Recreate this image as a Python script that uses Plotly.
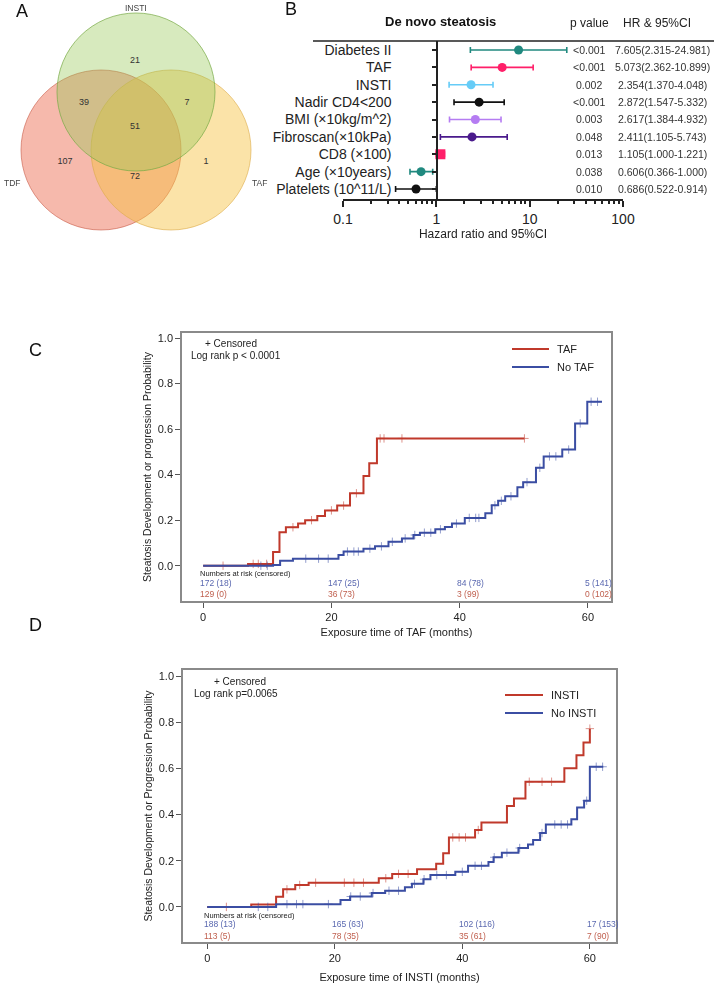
import plotly.graph_objects as go
import numpy as np

W, H = 714, 984
FONT = "Liberation Sans, Arial, sans-serif"

# ---------------- DATA ----------------
# Panel A: Venn counts
venn_sets = ["INSTI", "TDF", "TAF"]
venn_regions = ["INSTI only", "INSTI&TDF", "INSTI&TAF", "all", "TDF only", "TAF only", "TDF&TAF"]
venn_counts = [21, 39, 7, 51, 107, 1, 72]

# Panel B: forest plot
fp_labels = ["Diabetes II", "TAF", "INSTI", "Nadir CD4<200", "BMI (\u00d710kg/m^2)",
             "Fibroscan(\u00d710kPa)", "CD8 (\u00d7100)", "Age (\u00d710years)", "Platelets (10^11/L)"]
fp_hr = [7.605, 5.073, 2.354, 2.872, 2.617, 2.411, 1.105, 0.686, 0.606]
fp_lo = [2.315, 2.362, 1.370, 1.547, 1.384, 1.105, 1.000, 0.522, 0.366]
fp_hi = [24.981, 10.899, 4.048, 5.332, 4.932, 5.743, 1.221, 0.914, 1.000]
fp_p = ["<0.001", "<0.001", "0.002", "<0.001", "0.003", "0.048", "0.013", "0.038", "0.010"]
fp_hrtext = ["7.605(2.315-24.981)", "5.073(2.362-10.899)", "2.354(1.370-4.048)",
             "2.872(1.547-5.332)", "2.617(1.384-4.932)", "2.411(1.105-5.743)",
             "1.105(1.000-1.221)", "0.606(0.366-1.000)", "0.686(0.522-0.914)"]
fp_colors = ["#20897f", "#ff1f69", "#66ccf7", "#111111", "#b57cf2", "#4a1a8c",
             "#ff1f69", "#20897f", "#111111"]

# Panel C: KM by TAF
taf_t = [0, 7.0, 10.9, 11.9, 12.9, 14.8, 15.9, 17.8, 19.0, 20.9, 22.9, 25.0, 25.9, 27.1, 50.1]
taf_p = [0, 0.008, 0.06, 0.147, 0.169, 0.185, 0.2, 0.218, 0.243, 0.264, 0.318, 0.394, 0.45, 0.559, 0.559]
notaf_t = [0, 10.9, 12.0, 14.0, 21.1, 21.9, 25.0, 26.8, 28.9, 31.0, 32.8, 33.8, 36.2, 37.7, 38.8,
           40.8, 44.0, 45.0, 46.0, 47.1, 49.0, 49.9, 51.9, 53.1, 56.0, 58.0, 59.9, 62.2]
notaf_p = [0, 0.003, 0.022, 0.031, 0.047, 0.062, 0.075, 0.085, 0.105, 0.12, 0.135, 0.145, 0.16, 0.17,
           0.185, 0.21, 0.23, 0.265, 0.285, 0.305, 0.345, 0.367, 0.43, 0.48, 0.51, 0.625, 0.72, 0.72]
taf_cens = [3.1, 7.8, 8.6, 9.9, 14.0, 16.9, 20.0, 21.9, 23.9, 27.6, 28.2, 31.0, 50.1]
notaf_cens = [9, 10, 16, 18, 19.5, 22.5, 23.5, 24.2, 26, 27.8, 29.5, 31.5, 33, 34.5, 35.5, 37,
              39.5, 41.5, 42.5, 43, 45.5, 46.5, 48, 50.5, 52.5, 54, 55, 57, 58.8, 60.5, 61.5]
c_risk_times = [0, 20, 40, 60]
c_risk_notaf = ["172 (18)", "147 (25)", "84 (78)", "5 (141)"]
c_risk_taf = ["129 (0)", "36 (73)", "3 (99)", "0 (102)"]

# Panel D: KM by INSTI
insti_t = [0, 6.9, 10.8, 11.9, 13.8, 15.9, 26.9, 29.0, 32.9, 35.9, 37.0, 37.9, 42.0, 43.0, 47.0,
           48.1, 49.9, 56.0, 57.9, 59.0, 60.0]
insti_p = [0, 0.01, 0.044, 0.076, 0.095, 0.105, 0.124, 0.143, 0.163, 0.187, 0.232, 0.301, 0.333,
           0.365, 0.437, 0.47, 0.542, 0.6, 0.657, 0.712, 0.772]
noinsti_t = [0, 10.8, 20.9, 22.4, 25.8, 27.9, 31.0, 32.1, 33.9, 35.0, 38.9, 40.9, 44.1, 44.9, 46.2,
             48.8, 50.3, 51.1, 52.2, 53.1, 57.1, 58.0, 59.1, 60.0, 62.1]
noinsti_p = [0, 0.012, 0.03, 0.045, 0.06, 0.07, 0.085, 0.1, 0.12, 0.138, 0.152, 0.178, 0.195, 0.215,
             0.235, 0.255, 0.27, 0.29, 0.32, 0.357, 0.38, 0.43, 0.46, 0.607, 0.607]
insti_cens = [3, 12.5, 14.5, 17, 21.5, 23, 24.5, 28, 30, 31.5, 38.5, 39.5, 40.5, 42.5, 50.5, 52.5, 54, 60]
noinsti_cens = [8, 9.5, 12.5, 14, 15, 19, 22.5, 24, 26, 28.5, 30, 32.5, 34, 36, 37.5, 40, 42, 43, 45,
                47, 49, 52.5, 54.5, 55.5, 56.5, 59.5, 61, 62]
d_risk_times = [0, 20, 40, 60]
d_risk_noinsti = ["188 (13)", "165 (63)", "102 (116)", "17 (153)"]
d_risk_insti = ["113 (5)", "78 (35)", "35 (61)", "7 (90)"]

RED = "#c0392b"
BLUE = "#3b4ea3"

# ---------------- helpers ----------------
def dx(a, b):
    return [a / W, b / W]

def dy(top, bottom):
    return [1 - bottom / H, 1 - top / H]

def px(x):
    return x / W

def py(y):
    return 1 - y / H

def step_at(ts, ps, t):
    idx = np.searchsorted(np.array(ts), t, side="right") - 1
    return ps[max(idx, 0)]

fig = go.Figure()
annotations = []
shapes = []

# ---------------- Panel A: Venn ----------------
venn_geom = {"INSTI": (136, 92, 79), "TDF": (101, 150, 80), "TAF": (171, 150, 80)}
venn_fill = {"INSTI": "rgba(150,200,85,0.38)", "TDF": "rgba(235,100,70,0.45)", "TAF": "rgba(246,192,62,0.45)"}
venn_line = {"INSTI": "rgba(120,170,70,0.7)", "TDF": "rgba(200,90,70,0.6)", "TAF": "rgba(220,170,70,0.6)"}
for s in ["TDF", "TAF", "INSTI"]:
    cx, cy, r = venn_geom[s]
    shapes.append(dict(type="circle", xref="x", yref="y", x0=cx - r, x1=cx + r, y0=cy - r, y1=cy + r,
                       fillcolor=venn_fill[s], line=dict(color=venn_line[s], width=1), layer="below"))
region_pos = [(135, 61), (84, 103), (187, 103), (135, 127), (65, 162), (206, 162), (135, 177)]
fig.add_trace(go.Scatter(x=[p[0] for p in region_pos], y=[p[1] for p in region_pos],
                         text=[str(c) for c in venn_counts], mode="text",
                         textfont=dict(size=9, color="#333", family=FONT),
                         xaxis="x", yaxis="y", showlegend=False, hoverinfo="skip"))
set_pos = {"INSTI": (136, 8), "TDF": (12, 183), "TAF": (259, 183)}
for s in venn_sets:
    annotations.append(dict(x=set_pos[s][0], y=set_pos[s][1], xref="x", yref="y", text=s,
                            xanchor="center", yanchor="middle",
                            showarrow=False, font=dict(size=8.5, color="#444", family=FONT)))

# ---------------- Panel B: forest ----------------
for i, lab in enumerate(fp_labels):
    fig.add_trace(go.Scatter(
        x=[fp_hr[i]], y=[lab], mode="markers", xaxis="x2", yaxis="y2", showlegend=False,
        marker=dict(color=fp_colors[i], size=9 if lab != fp_labels[6] else 10,
                    symbol="circle" if lab != fp_labels[6] else "square"),
        error_x=dict(type="data", symmetric=False, array=[fp_hi[i] - fp_hr[i]],
                     arrayminus=[fp_hr[i] - fp_lo[i]], color=fp_colors[i], thickness=1.6, width=3)))
for i, lab in enumerate(fp_labels):
    annotations.append(dict(x=px(589), y=lab, xref="paper", yref="y2", text=fp_p[i], showarrow=False,
                            xanchor="center", yanchor="middle",
                            font=dict(size=10.5, color="#333", family=FONT)))
    annotations.append(dict(x=px(662), y=lab, xref="paper", yref="y2", text=fp_hrtext[i], showarrow=False,
                            xanchor="center", yanchor="middle",
                            font=dict(size=10.5, color="#333", family=FONT)))
annotations += [
    dict(x=px(440), y=py(21), xref="paper", yref="paper", text="<b>De novo steatosis</b>", showarrow=False,
         xanchor="center", yanchor="middle", font=dict(size=13, color="#111", family=FONT)),
    dict(x=px(589), y=py(23), xref="paper", yref="paper", text="p value", showarrow=False,
         xanchor="center", yanchor="middle", font=dict(size=12, color="#222", family=FONT)),
    dict(x=px(657), y=py(23), xref="paper", yref="paper", text="HR & 95%CI", showarrow=False,
         xanchor="center", yanchor="middle", font=dict(size=12, color="#222", family=FONT)),
]
shapes.append(dict(type="line", xref="paper", yref="paper", x0=px(313), x1=1.0, y0=py(41), y1=py(41),
                   line=dict(color="#222", width=1.5)))

# ---------------- Panels C & D: KM ----------------
def km(ts, ps, cens, color, name, xa, ya):
    fig.add_trace(go.Scatter(x=ts, y=ps, mode="lines", line=dict(color=color, width=2, shape="hv"),
                             name=name, xaxis=xa, yaxis=ya, showlegend=False))
    fig.add_trace(go.Scatter(x=cens, y=[step_at(ts, ps, c) for c in cens], mode="markers",
                             marker=dict(symbol="cross-thin", size=6, line=dict(color=color, width=1)),
                             opacity=0.55, xaxis=xa, yaxis=ya, showlegend=False, hoverinfo="skip"))

km(taf_t, taf_p, taf_cens, RED, "TAF", "x3", "y3")
km(notaf_t, notaf_p, notaf_cens, BLUE, "No TAF", "x3", "y3")
km(insti_t, insti_p, insti_cens, RED, "INSTI", "x4", "y4")
km(noinsti_t, noinsti_p, noinsti_cens, BLUE, "No INSTI", "x4", "y4")

# legend keys (drawn as line + label)
def legend_box(items, x0, x1, ys):
    for (name, color), yy in zip(items, ys):
        shapes.append(dict(type="line", xref="paper", yref="paper", x0=px(x0), x1=px(x1), y0=py(yy), y1=py(yy),
                           line=dict(color=color, width=2)))
        annotations.append(dict(x=px(x1 + 6), y=py(yy), xref="paper", yref="paper", xanchor="left",
                                yanchor="middle", text=name, showarrow=False,
                                font=dict(size=11, color="#222", family=FONT)))

legend_box([("TAF", RED), ("No TAF", BLUE)], 512, 549, [349, 367])
legend_box([("INSTI", RED), ("No INSTI", BLUE)], 505, 543, [695, 713])

def risk(xa, times, blue_txt, red_txt, y_head, y_blue, y_red):
    annotations.append(dict(x=times[0], y=py(y_head), xref=xa, yref="paper", xanchor="left",
                            yanchor="middle", xshift=-5, text="Numbers at risk (censored)", showarrow=False,
                            font=dict(size=7.5, color="#222", family=FONT)))
    for t, b, r in zip(times, blue_txt, red_txt):
        annotations.append(dict(x=t, y=py(y_blue), xref=xa, yref="paper", xanchor="left", xshift=-5,
                                yanchor="middle", text=b, showarrow=False,
                                font=dict(size=8.5, color="#5a68b0", family=FONT)))
        annotations.append(dict(x=t, y=py(y_red), xref=xa, yref="paper", xanchor="left", xshift=-5,
                                yanchor="middle", text=r, showarrow=False,
                                font=dict(size=8.5, color="#c0604f", family=FONT)))

risk("x3", c_risk_times, c_risk_notaf, c_risk_taf, 573, 583, 594)
risk("x4", d_risk_times, d_risk_noinsti, d_risk_insti, 915, 924, 936)

annotations += [
    dict(x=px(203), y=py(343), xref="paper", yref="paper", xanchor="left", yanchor="middle",
         text="+ Censored", showarrow=False, font=dict(size=10, color="#222", family=FONT)),
    dict(x=px(189), y=py(355), xref="paper", yref="paper", xanchor="left", yanchor="middle",
         text="Log rank p < 0.0001", showarrow=False, font=dict(size=10, color="#222", family=FONT)),
    dict(x=px(212), y=py(681), xref="paper", yref="paper", xanchor="left", yanchor="middle",
         text="+ Censored", showarrow=False, font=dict(size=10, color="#222", family=FONT)),
    dict(x=px(192), y=py(693), xref="paper", yref="paper", xanchor="left", yanchor="middle",
         text="Log rank p=0.0065", showarrow=False, font=dict(size=10, color="#222", family=FONT)),
]

# panel letters
for letter, (lx, ly) in {"A": (22, 11), "B": (291, 9), "C": (35, 350), "D": (35, 625)}.items():
    annotations.append(dict(x=px(lx), y=py(ly), xref="paper", yref="paper", text=letter, showarrow=False,
                            xanchor="center", yanchor="middle",
                            font=dict(size=18, color="#111", family=FONT)))

km_x = dict(showline=True, mirror=True, linecolor="#8a8a8a", linewidth=1.5, ticks="outside", ticklen=5,
            tickcolor="#555", tickvals=[0, 20, 40, 60], showgrid=False, zeroline=False,
            tickfont=dict(size=11, color="#222", family=FONT), title_font=dict(size=11, color="#222", family=FONT))
km_y = dict(showline=True, mirror=True, linecolor="#8a8a8a", linewidth=1.5, ticks="outside", ticklen=5,
            tickcolor="#555", tickvals=[0, 0.2, 0.4, 0.6, 0.8, 1.0],
            ticktext=["0.0", "0.2", "0.4", "0.6", "0.8", "1.0"], showgrid=False, zeroline=False,
            tickfont=dict(size=11, color="#222", family=FONT), title_font=dict(size=10.5, color="#222", family=FONT))

fp_minor = [v * m for m in [0.1, 1, 10] for v in range(2, 10)]

fig.update_layout(
    width=W, height=H, margin=dict(l=0, r=0, t=0, b=0, autoexpand=False),
    paper_bgcolor="white", plot_bgcolor="rgba(0,0,0,0)",
    font=dict(family=FONT), showlegend=False,
    shapes=shapes, annotations=annotations,
    xaxis=dict(domain=dx(0, 270), range=[0, 270], visible=False, anchor="y"),
    yaxis=dict(domain=dy(0, 240), range=[240, 0], visible=False, anchor="x"),
    xaxis2=dict(domain=dx(343, 623), type="log", range=[-1, 2], anchor="y2", showline=True,
                linecolor="#222", linewidth=1.5, ticks="outside", ticklen=6, tickwidth=1.5, tickcolor="#222",
                tickvals=[0.1, 1, 10, 100], ticktext=["0.1", "1", "10", "100"], showgrid=False, zeroline=False,
                minor=dict(tickvals=fp_minor, ticks="outside", ticklen=3, tickcolor="#222", showgrid=False),
                tickfont=dict(size=14, color="#222", family=FONT),
                title=dict(text="Hazard ratio and 95%CI", font=dict(size=12, color="#222", family=FONT), standoff=4)),
    yaxis2=dict(domain=dy(41, 199), type="category", categoryorder="array", categoryarray=fp_labels,
                range=[8.575, -0.518], anchor="free", position=px(437), showline=True, linecolor="#222",
                linewidth=1.5, ticks="outside", ticklen=4, tickwidth=2, tickcolor="#222", showgrid=False,
                zeroline=False, ticklabelstandoff=38, tickfont=dict(size=14, color="#222", family=FONT)),
    xaxis3=dict(domain=dx(182, 611), range=[-3.3, 63.6], anchor="y3",
                title=dict(text="Exposure time of TAF (months)", standoff=6), **km_x),
    yaxis3=dict(domain=dy(333, 601), range=[-0.155, 1.022], anchor="x3",
                title=dict(text="Steatosis Development or progression Probability", standoff=4), **km_y),
    xaxis4=dict(domain=dx(183, 616), range=[-3.8, 64.1], anchor="y4",
                title=dict(text="Exposure time of INSTI (months)", standoff=10), **km_x),
    yaxis4=dict(domain=dy(670, 942), range=[-0.152, 1.026], anchor="x4",
                title=dict(text="Steatosis Development or Progression Probability", standoff=4), **km_y),
)

fig.write_html("out.html", config={"displayModeBar": False},
               post_script="document.body.style.margin='0';document.body.style.overflow='hidden';")
